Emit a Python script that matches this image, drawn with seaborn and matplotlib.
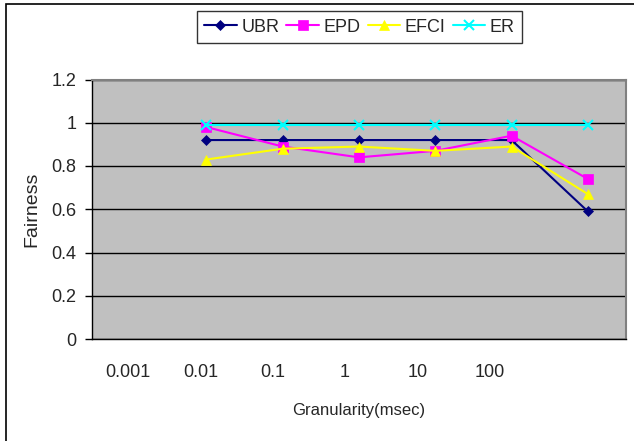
import matplotlib
matplotlib.use("Agg")
import matplotlib.pyplot as plt
import seaborn as sns
import pandas as pd
import numpy as np
from matplotlib.patches import Rectangle

categories = ["0.001", "0.01", "0.1", "1", "10", "100", ""]
series_names = ["UBR", "EPD", "EFCI", "ER"]
# values at categories 0.01 .. last (index 1..6); 0.001 has no data
ubr = [0.92, 0.92, 0.92, 0.92, 0.92, 0.59]
epd = [0.98, 0.89, 0.84, 0.87, 0.94, 0.74]
efci = [0.83, 0.88, 0.89, 0.87, 0.89, 0.67]
er = [0.99, 0.99, 0.99, 0.99, 0.99, 0.99]
x_index = [1, 2, 3, 4, 5, 6]

colors = {"UBR": "#000080", "EPD": "#FF00FF", "EFCI": "#FFFF00", "ER": "#00FFFF"}
markers = {"UBR": "D", "EPD": "s", "EFCI": "^", "ER": "x"}
msize = {"UBR": 5, "EPD": 6.5, "EFCI": 7, "ER": 7}

rows = []
for name, vals in zip(series_names, [ubr, epd, efci, er]):
    for xi, v in zip(x_index, vals):
        rows.append({"x": xi, "y": v, "series": name})
df = pd.DataFrame(rows)

sns.set_style("white")
plt.rcParams['font.family'] = ['Liberation Sans', 'DejaVu Sans']

fig = plt.figure(figsize=(6.34, 4.41), dpi=100)
ax = fig.add_axes([92/634, 1-339/441, (626-92)/634, (339-79.5)/441])
ax.set_facecolor("#C0C0C0")

for name in series_names:
    sub = df[df["series"] == name]
    sns.lineplot(data=sub, x="x", y="y", ax=ax, color=colors[name], marker=markers[name],
                 markersize=msize[name], markeredgecolor=colors[name], markeredgewidth=1.5 if name == "ER" else 0.5,
                 linewidth=1.5, legend=False, label=name, zorder=3)

ax.set_xlim(-0.5, 6.5)
ax.set_ylim(0, 1.2)
yt = np.arange(0, 1.21, 0.2)
ax.set_yticks(yt)
ax.set_yticklabels(["0", "0.2", "0.4", "0.6", "0.8", "1", "1.2"], fontsize=13)
ax.grid(axis="y", color="black", linewidth=1)
ax.grid(axis="x", visible=False)

# x tick marks and labels (offset spacing as in the reference)
step = 72/76
tick_pos = [-0.5 + k*step for k in range(7)]
lab_pos = [-0.5 + (k+0.5)*step for k in range(6)]
ax.set_xticks(tick_pos)
ax.set_xticklabels([""]*7)
ax.set_xticks(lab_pos, minor=True)
ax.set_xticklabels(categories[:6], minor=True, fontsize=13)
ax.tick_params(axis="x", which="major", direction="in", length=6, width=1, color="black")
ax.tick_params(axis="x", which="minor", length=0, pad=18)
ax.tick_params(axis="y", direction="out", length=5, width=1, color="black", pad=6, left=True)

for s in ["top", "right"]:
    ax.spines[s].set_color("#808080")
    ax.spines[s].set_linewidth(1.5)
for s in ["left", "bottom"]:
    ax.spines[s].set_color("black")
    ax.spines[s].set_linewidth(1)

ax.set_xlabel("Granularity(msec)", fontsize=12, labelpad=16)
ax.set_ylabel("Fairness", fontsize=14, labelpad=4)
ax.yaxis.set_label_coords(-0.097, 0.5)

handles, labels = ax.get_legend_handles_labels()
leg = fig.legend(handles, labels, loc="center", bbox_to_anchor=(359.5/634, 1-27/441), ncol=4,
                 fontsize=13, frameon=True, fancybox=False, edgecolor="black", handlelength=1.8,
                 handletextpad=0.25, columnspacing=0.4, borderpad=0.4, borderaxespad=0)
leg.get_frame().set_linewidth(1)

fig.patches.append(Rectangle((6/634, -0.1), 1.2, 1 - 4/441 + 0.1, transform=fig.transFigure,
                             fill=False, edgecolor="black", linewidth=1.2))

fig.savefig("out.png", dpi=100, facecolor="white")
